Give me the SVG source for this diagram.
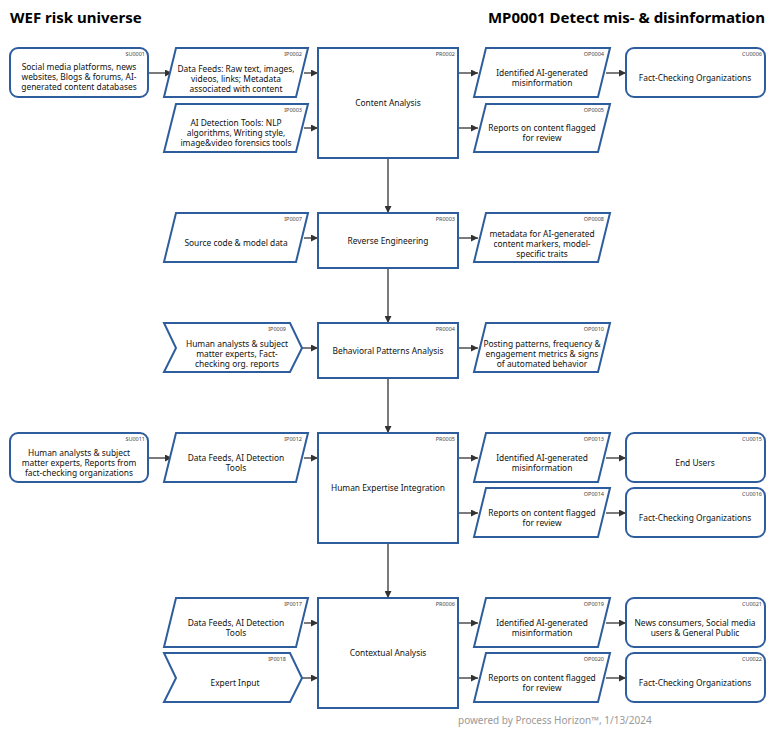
<svg xmlns="http://www.w3.org/2000/svg" width="776" height="736" viewBox="0 0 776 736">
<defs>
<style>
.s{fill:#fff;stroke:#2e5d9e;stroke-width:2}
.t{font-family:"Noto Sans","Open Sans",sans-serif;font-size:8.4px;fill:#111;text-anchor:middle}
.id{font-family:"Noto Sans",sans-serif;font-size:5.5px;fill:#444;text-anchor:end}
.c{stroke:#333;stroke-width:1.3;fill:none;marker-end:url(#a)}
</style>
<marker id="a" viewBox="0 0 10 10" refX="10" refY="5" markerWidth="7" markerHeight="7" orient="auto" markerUnits="userSpaceOnUse"><path d="M0,0L10,5L0,10z" fill="#333"/></marker>
</defs>
<rect width="776" height="736" fill="#fff"/>
<text x="10" y="23" font-family="Noto Sans,sans-serif" font-size="15" font-weight="bold">WEF risk universe</text>
<text x="765" y="23" font-family="Noto Sans,sans-serif" font-size="15" font-weight="bold" text-anchor="end">MP0001 Detect mis- &amp; disinformation</text>
<text x="458" y="724" font-family="Noto Sans,sans-serif" font-size="10" fill="#999">powered by Process Horizon™, 1/13/2024</text>

<g id="connectors">
<path class="c" d="M148,73H172"/>
<path class="c" d="M304,73H318"/>
<path class="c" d="M304,128H318"/>
<path class="c" d="M458,73H478"/>
<path class="c" d="M458,128H478"/>
<path class="c" d="M606,73H626"/>
<path class="c" d="M388,158V213"/>
<path class="c" d="M304,238H318"/>
<path class="c" d="M458,238H478"/>
<path class="c" d="M388,268V323"/>
<path class="c" d="M302,348H318"/>
<path class="c" d="M458,348H478"/>
<path class="c" d="M388,378V433"/>
<path class="c" d="M148,458H172"/>
<path class="c" d="M304,458H318"/>
<path class="c" d="M458,458H478"/>
<path class="c" d="M458,513H478"/>
<path class="c" d="M606,458H626"/>
<path class="c" d="M606,513H626"/>
<path class="c" d="M388,543V598"/>
<path class="c" d="M304,623H318"/>
<path class="c" d="M302,678H318"/>
<path class="c" d="M458,623H478"/>
<path class="c" d="M458,678H478"/>
<path class="c" d="M606,623H626"/>
<path class="c" d="M606,678H626"/>
</g>

<g id="SU0001"><rect class="s" x="10" y="48" width="138" height="49" rx="8"/><text class="id" x="145" y="56">SU0001</text><text class="t" x="79" y="70">Social media platforms, news<tspan x="79" dy="10">websites, Blogs &amp; forums, AI-</tspan><tspan x="79" dy="10">generated content databases</tspan></text></g>
<g id="IP0002"><path class="s" d="M176,48H308L296,97H164z"/><text class="id" x="302" y="56">IP0002</text><text class="t" x="236" y="72">Data Feeds: Raw text, images,<tspan x="236" dy="10">videos, links; Metadata</tspan><tspan x="236" dy="10">associated with content</tspan></text></g>
<g id="IP0003"><path class="s" d="M176,104H308L296,152H164z"/><text class="id" x="302" y="112">IP0003</text><text class="t" x="236" y="126">AI Detection Tools: NLP<tspan x="236" dy="10">algorithms, Writing style,</tspan><tspan x="236" dy="10">image&amp;video forensics tools</tspan></text></g>
<g id="PR0002"><rect class="s" x="318" y="48" width="140" height="110"/><text class="id" x="455" y="56">PR0002</text><text class="t" x="388" y="106">Content Analysis</text></g>
<g id="OP0004"><path class="s" d="M486,48H610L598,97H474z"/><text class="id" x="604" y="56">OP0004</text><text class="t" x="542" y="76">Identified AI-generated<tspan x="542" dy="10">misinformation</tspan></text></g>
<g id="OP0005"><path class="s" d="M486,104H610L598,152H474z"/><text class="id" x="604" y="112">OP0005</text><text class="t" x="542" y="131">Reports on content flagged<tspan x="542" dy="10">for review</tspan></text></g>
<g id="CU0006"><rect class="s" x="626" y="48" width="139" height="49" rx="8"/><text class="id" x="762" y="56">CU0006</text><text class="t" x="695" y="81">Fact-Checking Organizations</text></g>

<g id="IP0007"><path class="s" d="M176,213H308L296,262H164z"/><text class="id" x="302" y="221">IP0007</text><text class="t" x="236" y="246">Source code &amp; model data</text></g>
<g id="PR0003"><rect class="s" x="318" y="213" width="140" height="55"/><text class="id" x="455" y="221">PR0003</text><text class="t" x="388" y="244">Reverse Engineering</text></g>
<g id="OP0008"><path class="s" d="M486,213H610L598,262H474z"/><text class="id" x="604" y="221">OP0008</text><text class="t" x="542" y="237">metadata for AI-generated<tspan x="542" dy="10">content markers, model-</tspan><tspan x="542" dy="10">specific traits</tspan></text></g>

<g id="IP0009"><path class="s" d="M164,323H290L302,348L290,372H164L176,348z"/><text class="id" x="286" y="331">IP0009</text><text class="t" x="237" y="347">Human analysts &amp; subject<tspan x="237" dy="10">matter experts, Fact-</tspan><tspan x="237" dy="10">checking org. reports</tspan></text></g>
<g id="PR0004"><rect class="s" x="318" y="323" width="140" height="55"/><text class="id" x="455" y="331">PR0004</text><text class="t" x="388" y="354">Behavioral Patterns Analysis</text></g>
<g id="OP0010"><path class="s" d="M486,323H610L598,372H474z"/><text class="id" x="604" y="331">OP0010</text><text class="t" x="542" y="347">Posting patterns, frequency &amp;<tspan x="542" dy="10">engagement metrics &amp; signs</tspan><tspan x="542" dy="10">of automated behavior</tspan></text></g>

<g id="SU0011"><rect class="s" x="10" y="433" width="138" height="49" rx="8"/><text class="id" x="145" y="441">SU0011</text><text class="t" x="79" y="456">Human analysts &amp; subject<tspan x="79" dy="10">matter experts, Reports from</tspan><tspan x="79" dy="10">fact-checking organizations</tspan></text></g>
<g id="IP0012"><path class="s" d="M176,433H308L296,482H164z"/><text class="id" x="302" y="441">IP0012</text><text class="t" x="236" y="461">Data Feeds, AI Detection<tspan x="236" dy="10">Tools</tspan></text></g>
<g id="PR0005"><rect class="s" x="318" y="433" width="140" height="110"/><text class="id" x="455" y="441">PR0005</text><text class="t" x="388" y="491">Human Expertise Integration</text></g>
<g id="OP0013"><path class="s" d="M486,433H610L598,482H474z"/><text class="id" x="604" y="441">OP0013</text><text class="t" x="542" y="461">Identified AI-generated<tspan x="542" dy="10">misinformation</tspan></text></g>
<g id="OP0014"><path class="s" d="M486,488H610L598,537H474z"/><text class="id" x="604" y="496">OP0014</text><text class="t" x="542" y="516">Reports on content flagged<tspan x="542" dy="10">for review</tspan></text></g>
<g id="CU0015"><rect class="s" x="626" y="433" width="139" height="49" rx="8"/><text class="id" x="762" y="441">CU0015</text><text class="t" x="695" y="466">End Users</text></g>
<g id="CU0016"><rect class="s" x="626" y="488" width="139" height="49" rx="8"/><text class="id" x="762" y="496">CU0016</text><text class="t" x="695" y="521">Fact-Checking Organizations</text></g>

<g id="IP0017"><path class="s" d="M176,598H308L296,647H164z"/><text class="id" x="302" y="606">IP0017</text><text class="t" x="236" y="626">Data Feeds, AI Detection<tspan x="236" dy="10">Tools</tspan></text></g>
<g id="IP0018"><path class="s" d="M164,653H290L302,678L290,702H164L176,678z"/><text class="id" x="286" y="661">IP0018</text><text class="t" x="235" y="686">Expert Input</text></g>
<g id="PR0006"><rect class="s" x="318" y="598" width="140" height="110"/><text class="id" x="455" y="606">PR0006</text><text class="t" x="388" y="656">Contextual Analysis</text></g>
<g id="OP0019"><path class="s" d="M486,598H610L598,647H474z"/><text class="id" x="604" y="606">OP0019</text><text class="t" x="542" y="626">Identified AI-generated<tspan x="542" dy="10">misinformation</tspan></text></g>
<g id="OP0020"><path class="s" d="M486,653H610L598,702H474z"/><text class="id" x="604" y="661">OP0020</text><text class="t" x="542" y="681">Reports on content flagged<tspan x="542" dy="10">for review</tspan></text></g>
<g id="CU0021"><rect class="s" x="626" y="598" width="139" height="49" rx="8"/><text class="id" x="762" y="606">CU0021</text><text class="t" x="695" y="626">News consumers, Social media<tspan x="695" dy="10">users &amp; General Public</tspan></text></g>
<g id="CU0022"><rect class="s" x="626" y="653" width="139" height="49" rx="8"/><text class="id" x="762" y="661">CU0022</text><text class="t" x="695" y="686">Fact-Checking Organizations</text></g>
</svg>
